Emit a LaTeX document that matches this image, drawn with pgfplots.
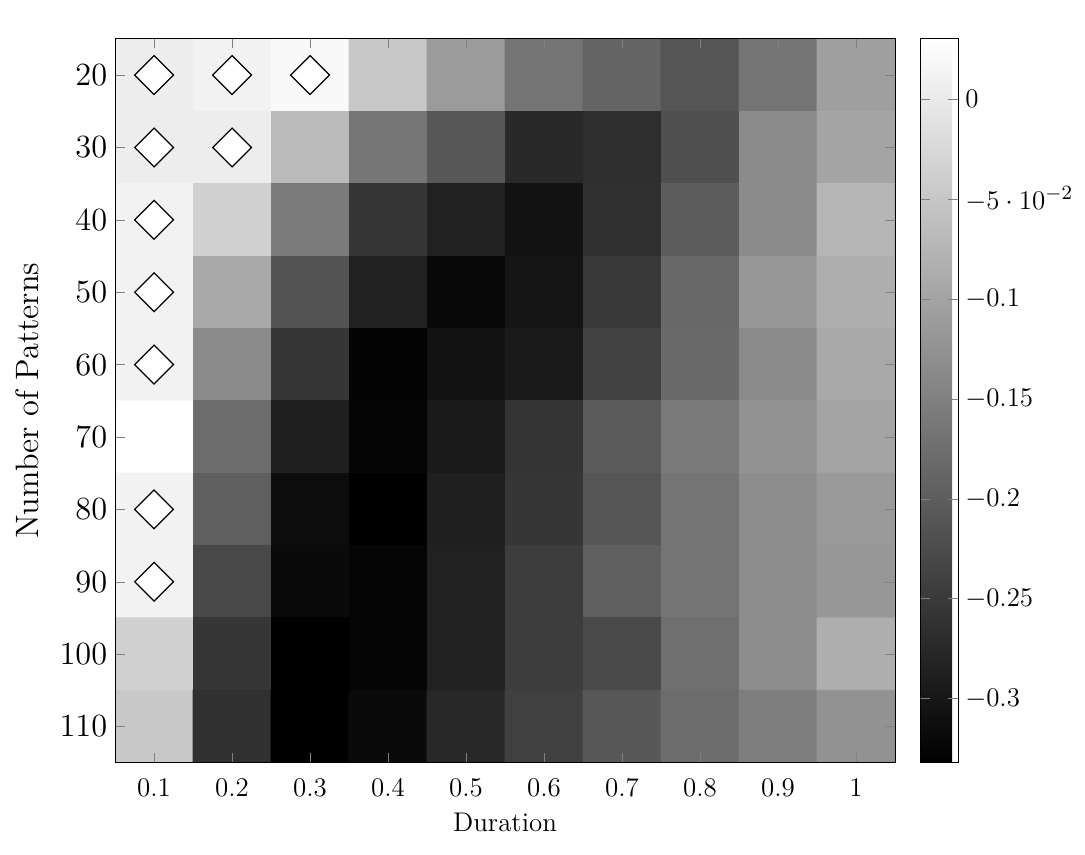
\documentclass[border=0pt]{standalone}
\usepackage{pgfplots}
\pgfplotsset{compat=1.18}
\usepackage{pgfplotstable}
\pgfplotstableread{
x y v
0.1 20 0.0016
0.2 20 0.0087
0.3 20 0.0187
0.4 20 -0.0495
0.5 20 -0.1134
0.6 20 -0.1687
0.7 20 -0.1915
0.8 20 -0.2128
0.9 20 -0.1687
1.0 20 -0.1077
0.1 30 0.0016
0.2 30 0.0016
0.3 30 -0.0680
0.4 30 -0.1659
0.5 30 -0.2085
0.6 30 -0.2738
0.7 30 -0.2667
0.8 30 -0.2199
0.9 30 -0.1361
1.0 30 -0.1006
0.1 40 0.0087
0.2 40 -0.0381
0.3 40 -0.1588
0.4 40 -0.2553
0.5 40 -0.2852
0.6 40 -0.3064
0.7 40 -0.2639
0.8 40 -0.2014
0.9 40 -0.1361
1.0 40 -0.0750
0.1 50 0.0087
0.2 50 -0.0935
0.3 50 -0.2156
0.4 50 -0.2852
0.5 50 -0.3206
0.6 50 -0.3036
0.7 50 -0.2525
0.8 50 -0.1872
0.9 50 -0.1191
1.0 50 -0.0864
0.1 60 0.0087
0.2 60 -0.1361
0.3 60 -0.2553
0.4 60 -0.3277
0.5 60 -0.3064
0.6 60 -0.2951
0.7 60 -0.2383
0.8 60 -0.1829
0.9 60 -0.1361
1.0 60 -0.0935
0.1 70 0.0300
0.2 70 -0.1801
0.3 70 -0.2880
0.4 70 -0.3249
0.5 70 -0.2951
0.6 70 -0.2596
0.7 70 -0.2057
0.8 70 -0.1616
0.9 70 -0.1262
1.0 70 -0.1006
0.1 80 0.0087
0.2 80 -0.1986
0.3 80 -0.3135
0.4 80 -0.3320
0.5 80 -0.2880
0.6 80 -0.2553
0.7 80 -0.2128
0.8 80 -0.1687
0.9 80 -0.1333
1.0 80 -0.1148
0.1 90 0.0087
0.2 90 -0.2312
0.3 90 -0.3178
0.4 90 -0.3249
0.5 90 -0.2852
0.6 90 -0.2454
0.7 90 -0.1986
0.8 90 -0.1687
0.9 90 -0.1333
1.0 90 -0.1191
0.1 100 -0.0381
0.2 100 -0.2553
0.3 100 -0.3320
0.4 100 -0.3249
0.5 100 -0.2852
0.6 100 -0.2454
0.7 100 -0.2270
0.8 100 -0.1758
0.9 100 -0.1333
1.0 100 -0.0864
0.1 110 -0.0495
0.2 110 -0.2639
0.3 110 -0.3320
0.4 110 -0.3178
0.5 110 -0.2752
0.6 110 -0.2411
0.7 110 -0.2085
0.8 110 -0.1801
0.9 110 -0.1546
1.0 110 -0.1262
}\heat
\pgfplotstableread{
x y
0.1 20
0.2 20
0.3 20
0.1 30
0.2 30
0.1 40
0.1 50
0.1 60
0.1 80
0.1 90
}\marks
\begin{document}
\begin{tikzpicture}
\begin{axis}[
  name=main,
  scale only axis,
  width=347pt, height=322pt,
  xmin=0.05, xmax=1.05, ymin=15, ymax=115,
  y dir=reverse,
  xtick={0.1,0.2,0.3,0.4,0.5,0.6,0.7,0.8,0.9,1},
  xticklabels={0.1,0.2,0.3,0.4,0.5,0.6,0.7,0.8,0.9,1},
  ytick={20,30,40,50,60,70,80,90,100,110},
  xlabel={Duration},
  ylabel={Number of Patterns},
  xlabel style={font=\large},
  ylabel style={font=\Large, yshift=2.5pt},
  yticklabel style={font=\Large},
  xticklabel style={font=\large, yshift=-3.5pt},
  axis on top,
  tick style={gray},
  colormap/blackwhite,
  point meta min=-0.332, point meta max=0.03,
  colorbar,
  colorbar style={
    xshift=2.4pt,
    width=16.9pt,
    ytick={-0.3,-0.25,-0.2,-0.15,-0.1,-0.05,0},
    yticklabel style={font=\fontsize{12.4}{15}\selectfont, inner sep=3pt},
  },
]
\addplot[matrix plot*, mesh/cols=10, point meta=explicit] table[x=x, y=y, meta=v] {\heat};
\addplot[only marks, mark=square*, mark size=6.1pt, mark options={rotate=45, fill=white, draw=black, line width=0.55pt}] table[x=x, y=y] {\marks};
\end{axis}
\pgfresetboundingbox
\path ([xshift=-51.2pt,yshift=17.3pt]main.north west) ([xshift=84.5pt,yshift=-41pt]main.south east);
\end{tikzpicture}
\end{document}
